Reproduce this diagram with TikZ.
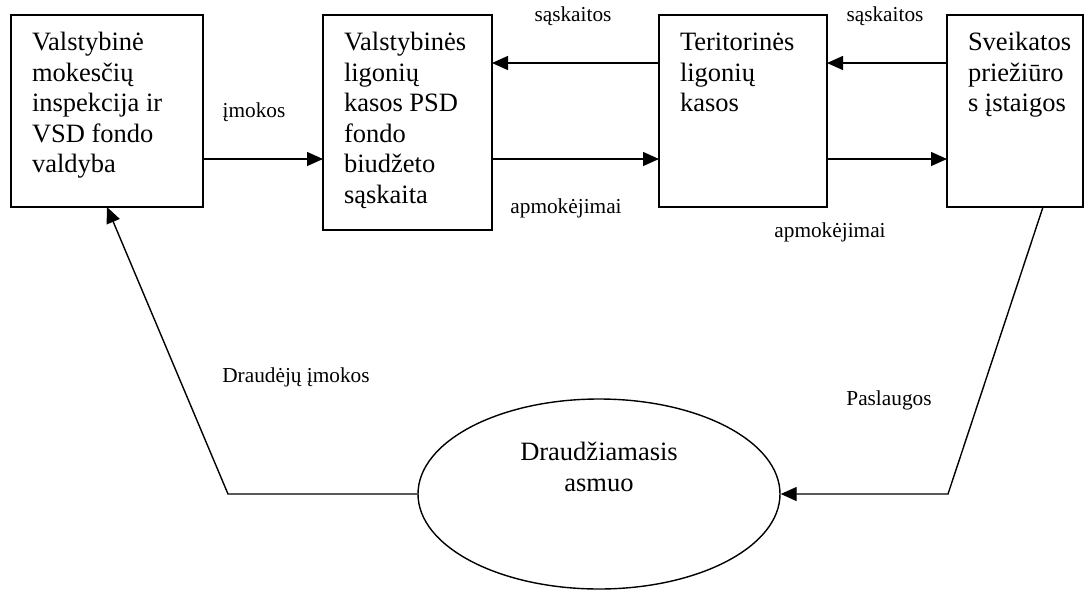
\documentclass[tikz,border=0pt]{standalone}
\usepackage{fontspec}
\setmainfont{Liberation Serif}
\usetikzlibrary{arrows.meta,shapes.geometric}
\newcommand{\bxt}[3]{\hspace*{21pt}\parbox[c][#1][t]{#2}{\raggedright\vspace*{14.6pt}\strut #3}}
\begin{document}
\begin{tikzpicture}[x=1pt,y=-1pt,line width=1.4pt,
  box/.style={draw,rectangle,inner sep=0pt,outer sep=0pt,font=\fontsize{26.5}{30.5}\selectfont},
  lbl/.style={inner sep=0pt,anchor=base,font=\fontsize{21.3}{25}\selectfont},
  arr/.style={-{Triangle[length=16pt,width=14pt]}}]
\useasboundingbox (0,0) rectangle (1092,590);
% boxes
\node[box,minimum width=192pt,minimum height=192pt] (b1) at (107,111)
  {\bxt{192pt}{171pt}{Valstybinė\\mokesčių\\inspekcija ir\\VSD fondo\\valdyba}};
\node[box,minimum width=169pt,minimum height=215pt] (b2) at (407.5,122.5)
  {\bxt{215pt}{148pt}{Valstybinės\\ligonių\\kasos PSD\\fondo\\biudžeto\\sąskaita}};
\node[box,minimum width=168pt,minimum height=192pt] (b3) at (743,111)
  {\bxt{192pt}{147pt}{Teritorinės\\ligonių\\kasos}};
\node[box,minimum width=136pt,minimum height=192pt] (b4) at (1015,111)
  {\bxt{192pt}{115pt}{Sveikatos\\priežiūro\\s įstaigos}};
% ellipse
\node[draw,ellipse,minimum width=362pt,minimum height=190pt,inner sep=0pt] (ell) at (599,494) {};
\node[inner sep=0pt,anchor=north,align=center,font=\fontsize{26.5}{31}\selectfont] (ellt)
  at ([yshift=53pt]ell.center) {Draudžiamasis\\asmuo};
% helper coordinates
\coordinate (yu) at (0,63);
\coordinate (yl) at (0,159);
\coordinate (s4) at (1043,0);
\coordinate (p1) at (948,494);
\coordinate (p2) at (228,494);
% connectors
\draw[arr] (b1.east |- yl) -- (b2.west |- yl);
\draw[arr] (b3.west |- yu) -- (b2.east |- yu);
\draw[arr] (b2.east |- yl) -- (b3.west |- yl);
\draw[arr] (b4.west |- yu) -- (b3.east |- yu);
\draw[arr] (b3.east |- yl) -- (b4.west |- yl);
\draw[arr] (b4.south -| s4) -- (p1) -- (ell.east);
\draw[arr] (ell.west) -- (p2) -- (b1.south);
% labels
\node[lbl] (l1) at (254,117) {įmokos};
\node[lbl] (l2) at (573,21) {sąskaitos};
\node[lbl] (l3) at (566,213) {apmokėjimai};
\node[lbl] (l4) at (885,21) {sąskaitos};
\node[lbl] (l5) at (830,237) {apmokėjimai};
\node[lbl] (l6) at (889,405) {Paslaugos};
\node[lbl] (l7) at (296,382) {Draudėjų įmokos};
\end{tikzpicture}
\end{document}
